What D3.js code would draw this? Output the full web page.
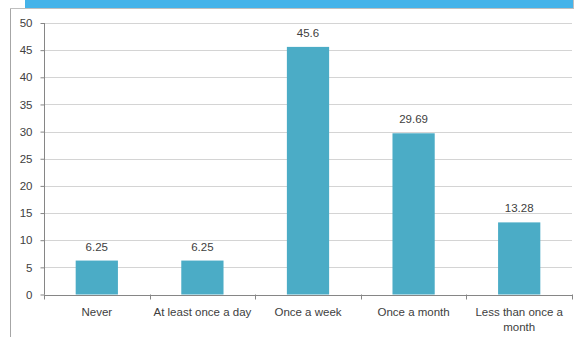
<!DOCTYPE html>
<html><head><meta charset="utf-8">
<script src="https://cdn.jsdelivr.net/npm/d3@7"></script>
<style>body{margin:0;background:#fff;} svg{display:block;font-family:"Liberation Sans",Arial,sans-serif;}</style>
</head><body>
<svg id="c" width="576" height="337"></svg>
<script>
const categories = ["Never","At least once a day","Once a week","Once a month","Less than once a month"];
const values = [6.25, 6.25, 45.6, 29.69, 13.28];
const valueLabels = ["6.25","6.25","45.6","29.69","13.28"];
const yTicks = [0,5,10,15,20,25,30,35,40,45,50];

const svg = d3.select("#c");
const FS = 11.5;
// top blue band and frame
svg.append("rect").attr("x",25).attr("y",0).attr("width",548).attr("height",8).attr("fill","#45B3E9");
svg.append("line").attr("x1",10.5).attr("x2",10.5).attr("y1",8).attr("y2",337).attr("stroke","#A6A6A6");
svg.append("line").attr("x1",10).attr("x2",574).attr("y1",8.5).attr("y2",8.5).attr("stroke","#BFBFBF");
svg.append("line").attr("x1",573.5).attr("x2",573.5).attr("y1",0).attr("y2",8).attr("stroke","#BFBFBF");

const x = d3.scaleBand().domain(categories).range([44,572]).paddingInner(0.6).paddingOuter(0.3);
const xb = d3.scaleBand().domain(categories).range([44,572]);
const y = d3.scaleLinear().domain([0,50]).range([294.5,23]);

const g = svg.append("g");
// gridlines
g.selectAll("line.grid").data(yTicks.filter(d=>d>0)).join("line")
 .attr("x1",44).attr("x2",572).attr("y1",d=>Math.round(y(d))+0.5).attr("y2",d=>Math.round(y(d))+0.5)
 .attr("stroke","#D4D4D4").attr("stroke-width",1);

// y axis
const ya = g.append("g").attr("transform","translate(44.5,0)")
 .call(d3.axisLeft(y).tickValues(yTicks).tickSize(4).tickPadding(8).tickFormat(d3.format("d")));
ya.select(".domain").attr("stroke","#868686").attr("d","M0,"+y(50)+"V"+y(0));
ya.selectAll(".tick line").attr("stroke","#868686");
ya.selectAll(".tick text").attr("font-size",FS).attr("fill","#404040").attr("font-family","Liberation Sans, Arial, sans-serif");

// bars
g.selectAll("rect.bar").data(values).join("rect")
 .attr("x",(d,i)=>x(categories[i])).attr("width",x.bandwidth())
 .attr("y",d=>y(d)).attr("height",d=>y(0)-y(d)).attr("fill","#4BACC6");

// value labels
g.selectAll("text.val").data(values).join("text")
 .attr("x",(d,i)=>x(categories[i])+x.bandwidth()/2).attr("y",d=>y(d)-10)
 .attr("text-anchor","middle").attr("font-size",FS).attr("fill","#404040")
 .text((d,i)=>valueLabels[i]);

// x axis
const xa = g.append("g").attr("transform","translate(0,"+(Math.round(y(0))+0.5)+")")
 .call(d3.axisBottom(xb).tickSize(0).tickPadding(0));
xa.select(".domain").attr("stroke","#868686").attr("d","M44,0H572");
xa.selectAll(".tick text").remove();
// category boundary ticks
const bounds = categories.map(c=>xb(c)).concat([xb.range()[1]]);
g.selectAll("line.xt").data(bounds).join("line")
 .attr("x1",d=>Math.round(d)+0.5).attr("x2",d=>Math.round(d)+0.5)
 .attr("y1",y(0)).attr("y2",y(0)+5).attr("stroke","#868686");

// category labels (wrapped)
const catLines = [["Never"],["At least once a day"],["Once a week"],["Once a month"],["Less than once a","month"]];
categories.forEach((c,i)=>{
  const t = g.append("text").attr("text-anchor","middle").attr("font-size",FS).attr("fill","#404040")
    .attr("x",xb(c)+xb.bandwidth()/2).attr("y",316);
  catLines[i].forEach((l,j)=>t.append("tspan").attr("x",xb(c)+xb.bandwidth()/2).attr("dy",j?15:0).text(l));
});
</script>
</body></html>
